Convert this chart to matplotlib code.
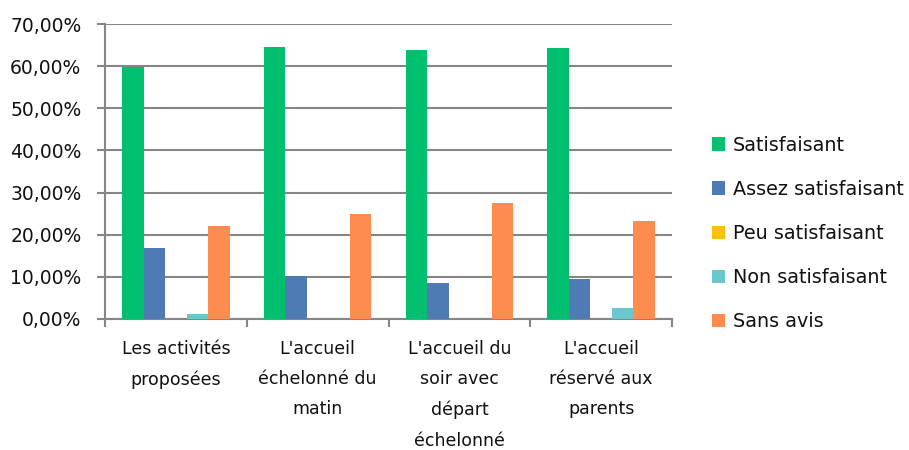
import numpy as np
import matplotlib.pyplot as plt
from matplotlib.patches import Patch
from matplotlib.ticker import FuncFormatter, FixedLocator

plt.rcParams['font.family'] = ['DejaVu Sans']

categories = ["Les activités\nproposées",
              "L'accueil\néchelonné du\nmatin",
              "L'accueil du\nsoir avec\ndépart\néchelonné",
              "L'accueil\nréservé aux\nparents"]
series = ["Satisfaisant", "Assez satisfaisant", "Peu satisfaisant",
          "Non satisfaisant", "Sans avis"]
satisfaisant = [59.8, 64.6, 63.9, 64.4]
assez_satisfaisant = [16.9, 10.2, 8.6, 9.4]
peu_satisfaisant = [0.0, 0.0, 0.0, 0.0]
non_satisfaisant = [1.3, 0.0, 0.0, 2.7]
sans_avis = [22.1, 24.9, 27.5, 23.2]
yticks = [0, 10, 20, 30, 40, 50, 60, 70]

values = [satisfaisant, assez_satisfaisant, peu_satisfaisant,
          non_satisfaisant, sans_avis]
colors = ["#00BF6F", "#4F7BB5", "#FFC000", "#6BC7CC", "#FF8C4F"]
text_color = "#111111"
grid_color = "#868686"

fig = plt.figure(figsize=(9.09, 4.5), dpi=100)
ax = fig.add_axes([105 / 909, 1 - 319 / 450, (672 - 105) / 909, (319 - 24) / 450])

x = np.arange(len(categories)) + 0.5
width = 0.152
for k, (name, vals, col) in enumerate(zip(series, values, colors)):
    ax.bar(x + (k - 2) * width, vals, width, color=col, label=name, zorder=3)

ax.set_xlim(0, len(categories))
ax.set_ylim(0, 70)
ax.set_yticks(yticks)
ax.yaxis.set_major_formatter(FuncFormatter(lambda v, p: f"{v:.2f}%".replace('.', ',')))
ax.tick_params(axis='y', labelsize=13.5, labelcolor=text_color, color=grid_color,
               length=6, width=1.5, pad=11)
ax.grid(axis='y', color=grid_color, linewidth=1.5, zorder=0)

ax.set_xticks(x)
ax.set_xticklabels(categories, fontsize=12.5, color=text_color, linespacing=1.88)
ax.tick_params(axis='x', which='major', length=0, pad=15)
ax.xaxis.set_minor_locator(FixedLocator(np.arange(len(categories) + 1)))
ax.tick_params(axis='x', which='minor', length=6, width=1.5, color=grid_color)

for side in ['top', 'right']:
    ax.spines[side].set_visible(False)
for side in ['left', 'bottom']:
    ax.spines[side].set_color(grid_color)
    ax.spines[side].set_linewidth(1.5)

handles = [Patch(facecolor=c, edgecolor='none') for c in colors]
fig.legend(handles, series, loc='center left', bbox_to_anchor=(712 / 909, 1 - 233.5 / 450),
           frameon=False, fontsize=13.8, handlelength=0.7, handleheight=0.7,
           handletextpad=0.4, labelspacing=1.31, borderpad=0, borderaxespad=0,
           labelcolor=text_color)

fig.savefig("out.png", dpi=100)
